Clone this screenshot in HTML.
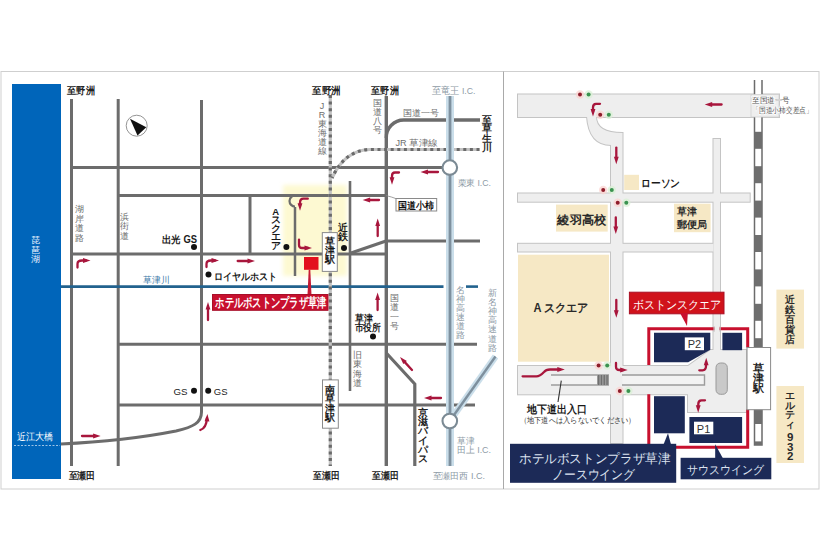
<!DOCTYPE html>
<html><head><meta charset="utf-8"><style>
html,body{margin:0;padding:0;background:#fff;width:820px;height:560px;overflow:hidden}
svg{display:block;font-family:"Liberation Sans", sans-serif}
</style></head><body>
<svg width="820" height="560" viewBox="0 0 820 560">
<rect x="1" y="71.5" width="818" height="417.5" fill="#fff" stroke="#cfcfcf" stroke-width="1" />
<line x1="503.5" y1="71.5" x2="503.5" y2="489" stroke="#a9a9a9" stroke-width="1" />
<rect x="12" y="84" width="49" height="395" fill="#0065ba" stroke="none" stroke-width="0" />
<text x="35.5" y="243.2" font-size="9" fill="#e8f2ff" font-weight="normal" text-anchor="middle" >琵</text>
<text x="35.5" y="252.5" font-size="9" fill="#e8f2ff" font-weight="normal" text-anchor="middle" >琶</text>
<text x="35.5" y="261.8" font-size="9" fill="#e8f2ff" font-weight="normal" text-anchor="middle" >湖</text>
<defs><filter id="blur"><feGaussianBlur stdDeviation="2"/></filter></defs>
<rect x="283" y="185" width="64" height="91" fill="#fdf9d2" stroke="none" stroke-width="0" filter="url(#blur)"/>
<line x1="71.5" y1="99" x2="71.5" y2="466" stroke="#6c6c6c" stroke-width="3" />
<line x1="118.2" y1="99" x2="118.2" y2="466" stroke="#6c6c6c" stroke-width="3" />
<path d="M201.5,100 L201.5,412 C201.5,423 193,427 176,431 Q125,441 61,444" stroke="#6c6c6c" stroke-width="3" fill="none" />
<line x1="71" y1="167.5" x2="443" y2="167.5" stroke="#6c6c6c" stroke-width="3" />
<line x1="118" y1="195.5" x2="386" y2="195.5" stroke="#6c6c6c" stroke-width="3" />
<line x1="71" y1="254" x2="386" y2="254" stroke="#6c6c6c" stroke-width="3" />
<line x1="250" y1="195" x2="250" y2="254" stroke="#6c6c6c" stroke-width="3" />
<path d="M295,207 L295,276" stroke="#6c6c6c" stroke-width="2.5" fill="none" />
<path d="M295,195.5 A5.5,5.5 0 0 0 295,206.5" stroke="#6c6c6c" stroke-width="2.2" fill="none" />
<line x1="350" y1="181" x2="350" y2="391" stroke="#6c6c6c" stroke-width="2.6" />
<line x1="351" y1="253" x2="386" y2="241" stroke="#6c6c6c" stroke-width="3" />
<line x1="386" y1="241" x2="480" y2="241" stroke="#6c6c6c" stroke-width="3" />
<line x1="118" y1="344.3" x2="477" y2="344.3" stroke="#6c6c6c" stroke-width="3" />
<line x1="118" y1="405" x2="475" y2="405" stroke="#6c6c6c" stroke-width="3" />
<line x1="386.3" y1="131" x2="386.3" y2="466" stroke="#6c6c6c" stroke-width="3.4" />
<line x1="386.3" y1="96" x2="386.3" y2="131" stroke="#6c6c6c" stroke-width="3.4" />
<path d="M386.3,138 A17.5,17.5 0 0 1 403.8,120 L480,120" stroke="#6c6c6c" stroke-width="3.4" fill="none" />
<path d="M386.3,353 L414.8,384 L414.8,466" stroke="#6c6c6c" stroke-width="3.2" fill="none" />
<line x1="61" y1="286.6" x2="443.5" y2="286.6" stroke="#22628e" stroke-width="2.6" />
<line x1="466" y1="286.6" x2="478" y2="286.6" stroke="#22628e" stroke-width="2.6" />
<path d="M330.3,95 L330.3,466" stroke="#c2c2c2" stroke-width="3.2" fill="none" />
<path d="M330.3,95 L330.3,466" stroke="#6a6a6a" stroke-width="3.2" fill="none" stroke-dasharray="3 3.6"/>
<path d="M479.5,149.5 L370,149.5 Q345,150 332,178" stroke="#c2c2c2" stroke-width="3.2" fill="none" />
<path d="M479.5,149.5 L370,149.5 Q345,150 332,178" stroke="#6a6a6a" stroke-width="3.2" fill="none" stroke-dasharray="3 3.6"/>
<path d="M450,96 L450,466" stroke="#cadeea" stroke-width="8" fill="none" />
<path d="M450,96 L450,466" stroke="#7e909e" stroke-width="2.8" fill="none" />
<path d="M495.5,356.5 L454,415" stroke="#cadeea" stroke-width="6.5" fill="none" />
<path d="M495.5,356.5 L454,415" stroke="#7e909e" stroke-width="2.4" fill="none" />
<circle cx="449.8" cy="167.6" r="7.3" fill="#fff" stroke="#7b8a94" stroke-width="2.1"/>
<circle cx="449.8" cy="421" r="7.3" fill="#fff" stroke="#7b8a94" stroke-width="2.1"/>
<line x1="14" y1="445.5" x2="60" y2="445.5" stroke="#9cc3e6" stroke-width="1" stroke-dasharray="2 1.5"/>
<rect x="322.3" y="232.6" width="15" height="38.8" fill="#fff" stroke="#8a8a8a" stroke-width="1" />
<text x="329.8" y="245.0" font-size="9.6" fill="#1a1a1a" font-weight="bold" text-anchor="middle" >草</text>
<text x="329.8" y="254.1" font-size="9.6" fill="#1a1a1a" font-weight="bold" text-anchor="middle" >津</text>
<text x="329.8" y="263.2" font-size="9.6" fill="#1a1a1a" font-weight="bold" text-anchor="middle" >駅</text>
<rect x="322.5" y="379.9" width="15.8" height="48.3" fill="#fff" stroke="#8a8a8a" stroke-width="1" />
<text x="330.3" y="393.1" font-size="9.6" fill="#1a1a1a" font-weight="bold" text-anchor="middle" >南</text>
<text x="330.3" y="402.3" font-size="9.6" fill="#1a1a1a" font-weight="bold" text-anchor="middle" >草</text>
<text x="330.3" y="411.5" font-size="9.6" fill="#1a1a1a" font-weight="bold" text-anchor="middle" >津</text>
<text x="330.3" y="420.7" font-size="9.6" fill="#1a1a1a" font-weight="bold" text-anchor="middle" >駅</text>
<path d="M386,195.5 Q392,197 397,199" stroke="#888" stroke-width="0.8" fill="none" />
<rect x="396" y="198.5" width="40.7" height="12.5" fill="#fff" stroke="#8a8a8a" stroke-width="1" />
<text x="398" y="209.3" font-size="9.5" fill="#111" font-weight="bold" text-anchor="start"  textLength="36" lengthAdjust="spacingAndGlyphs">国道小柿</text>
<rect x="304" y="257" width="14.5" height="12.8" fill="#e3101e" stroke="none" stroke-width="0" />
<path d="M308.7,269.8 L310.3,269.8 L311.5,295 L307.5,295 Z" fill="#c51a35"/>
<rect x="212.5" y="294.5" width="115.5" height="15.8" fill="#c8102e" stroke="#a70f2a" stroke-width="1" />
<text x="215.3" y="307.3" font-size="12.5" fill="#fff" font-weight="bold" text-anchor="start"  textLength="111" lengthAdjust="spacingAndGlyphs">ホテルボストンプラザ草津</text>
<circle cx="194" cy="247" r="3" fill="#111"/>
<circle cx="286.4" cy="247" r="3" fill="#111"/>
<circle cx="344" cy="248" r="3" fill="#111"/>
<circle cx="208.5" cy="274.6" r="3" fill="#111"/>
<circle cx="373" cy="336.4" r="3" fill="#111"/>
<circle cx="194" cy="390.8" r="3" fill="#111"/>
<circle cx="208.2" cy="390.8" r="3" fill="#111"/>
<text x="67.3" y="94.3" font-size="9.5" fill="#222" font-weight="bold" text-anchor="start"  textLength="27.5" lengthAdjust="spacingAndGlyphs">至野洲</text>
<text x="312" y="94.3" font-size="9.5" fill="#222" font-weight="bold" text-anchor="start"  textLength="28.5" lengthAdjust="spacingAndGlyphs">至野洲</text>
<text x="371.4" y="94.3" font-size="9.5" fill="#222" font-weight="bold" text-anchor="start"  textLength="27.3" lengthAdjust="spacingAndGlyphs">至野洲</text>
<text x="432" y="94.3" font-size="9.5" fill="#8e9ba6" font-weight="normal" text-anchor="start"  textLength="43.5" lengthAdjust="spacingAndGlyphs">至竜王 I.C.</text>
<text x="487" y="123.1" font-size="9.5" fill="#222" font-weight="bold" text-anchor="middle" >至</text>
<text x="487" y="132.3" font-size="9.5" fill="#222" font-weight="bold" text-anchor="middle" >草</text>
<text x="487" y="141.5" font-size="9.5" fill="#222" font-weight="bold" text-anchor="middle" >生</text>
<text x="487" y="150.7" font-size="9.5" fill="#222" font-weight="bold" text-anchor="middle" >川</text>
<text x="377" y="105.5" font-size="9" fill="#6d6d6d" font-weight="normal" text-anchor="middle" >国</text>
<text x="377" y="114.6" font-size="9" fill="#6d6d6d" font-weight="normal" text-anchor="middle" >道</text>
<text x="377" y="123.7" font-size="9" fill="#6d6d6d" font-weight="normal" text-anchor="middle" >八</text>
<text x="377" y="132.8" font-size="9" fill="#6d6d6d" font-weight="normal" text-anchor="middle" >号</text>
<text x="403" y="115.8" font-size="9" fill="#6d6d6d" font-weight="normal" text-anchor="start"  textLength="36" lengthAdjust="spacingAndGlyphs">国道一号</text>
<text x="395.4" y="146.4" font-size="8.5" fill="#6d6d6d" font-weight="normal" text-anchor="start"  textLength="42.6" lengthAdjust="spacingAndGlyphs">JR 草津線</text>
<text x="322" y="108.9" font-size="9" fill="#6d6d6d" font-weight="normal" text-anchor="middle" >J</text>
<text x="322" y="117.9" font-size="9" fill="#6d6d6d" font-weight="normal" text-anchor="middle" >R</text>
<text x="322" y="126.9" font-size="9" fill="#6d6d6d" font-weight="normal" text-anchor="middle" >東</text>
<text x="322" y="135.9" font-size="9" fill="#6d6d6d" font-weight="normal" text-anchor="middle" >海</text>
<text x="322" y="144.9" font-size="9" fill="#6d6d6d" font-weight="normal" text-anchor="middle" >道</text>
<text x="322" y="153.9" font-size="9" fill="#6d6d6d" font-weight="normal" text-anchor="middle" >線</text>
<text x="79.5" y="212.3" font-size="9" fill="#6d6d6d" font-weight="normal" text-anchor="middle" >湖</text>
<text x="79.5" y="221.7" font-size="9" fill="#6d6d6d" font-weight="normal" text-anchor="middle" >岸</text>
<text x="79.5" y="231.1" font-size="9" fill="#6d6d6d" font-weight="normal" text-anchor="middle" >道</text>
<text x="79.5" y="240.5" font-size="9" fill="#6d6d6d" font-weight="normal" text-anchor="middle" >路</text>
<text x="124.6" y="219.6" font-size="9" fill="#6d6d6d" font-weight="normal" text-anchor="middle" >浜</text>
<text x="124.6" y="229.4" font-size="9" fill="#6d6d6d" font-weight="normal" text-anchor="middle" >街</text>
<text x="124.6" y="239.2" font-size="9" fill="#6d6d6d" font-weight="normal" text-anchor="middle" >道</text>
<text x="162" y="243" font-size="10" fill="#1a1a1a" font-weight="bold" text-anchor="start"  textLength="35" lengthAdjust="spacingAndGlyphs">出光 GS</text>
<text x="275.6" y="214.6" font-size="9.5" fill="#1a1a1a" font-weight="bold" text-anchor="middle" >A</text>
<text x="275.6" y="223.2" font-size="9.5" fill="#1a1a1a" font-weight="bold" text-anchor="middle" >ス</text>
<text x="275.6" y="231.8" font-size="9.5" fill="#1a1a1a" font-weight="bold" text-anchor="middle" >ク</text>
<text x="275.6" y="240.4" font-size="9.5" fill="#1a1a1a" font-weight="bold" text-anchor="middle" >エ</text>
<text x="275.6" y="249.0" font-size="9.5" fill="#1a1a1a" font-weight="bold" text-anchor="middle" >ア</text>
<text x="343.4" y="231.3" font-size="9.5" fill="#1a1a1a" font-weight="bold" text-anchor="middle" >近</text>
<text x="343.4" y="240.2" font-size="9.5" fill="#1a1a1a" font-weight="bold" text-anchor="middle" >鉄</text>
<text x="457.5" y="185.5" font-size="9" fill="#8e9ba6" font-weight="normal" text-anchor="start"  textLength="33.5" lengthAdjust="spacingAndGlyphs">栗東 I.C.</text>
<text x="213.9" y="280" font-size="10" fill="#1a1a1a" font-weight="bold" text-anchor="start"  textLength="63" lengthAdjust="spacingAndGlyphs">ロイヤルホスト</text>
<text x="143" y="283" font-size="9" fill="#3a78a8" font-weight="normal" text-anchor="start"  textLength="26.5" lengthAdjust="spacingAndGlyphs">草津川</text>
<text x="394" y="301.1" font-size="9" fill="#6d6d6d" font-weight="normal" text-anchor="middle" >国</text>
<text x="394" y="310.3" font-size="9" fill="#6d6d6d" font-weight="normal" text-anchor="middle" >道</text>
<text x="394" y="319.5" font-size="9" fill="#6d6d6d" font-weight="normal" text-anchor="middle" >一</text>
<text x="394" y="328.7" font-size="9" fill="#6d6d6d" font-weight="normal" text-anchor="middle" >号</text>
<text x="354.6" y="322" font-size="9.5" fill="#1a1a1a" font-weight="bold" text-anchor="start"  textLength="18" lengthAdjust="spacingAndGlyphs">草津</text>
<text x="354.6" y="330.5" font-size="9.5" fill="#1a1a1a" font-weight="bold" text-anchor="start"  textLength="26.4" lengthAdjust="spacingAndGlyphs">市役所</text>
<text x="357.7" y="358.1" font-size="9" fill="#6d6d6d" font-weight="normal" text-anchor="middle" >旧</text>
<text x="357.7" y="367.3" font-size="9" fill="#6d6d6d" font-weight="normal" text-anchor="middle" >東</text>
<text x="357.7" y="376.5" font-size="9" fill="#6d6d6d" font-weight="normal" text-anchor="middle" >海</text>
<text x="357.7" y="385.7" font-size="9" fill="#6d6d6d" font-weight="normal" text-anchor="middle" >道</text>
<text x="460" y="292.9" font-size="9" fill="#8d9aa6" font-weight="normal" text-anchor="middle" >名</text>
<text x="460" y="301.9" font-size="9" fill="#8d9aa6" font-weight="normal" text-anchor="middle" >神</text>
<text x="460" y="310.9" font-size="9" fill="#8d9aa6" font-weight="normal" text-anchor="middle" >高</text>
<text x="460" y="319.9" font-size="9" fill="#8d9aa6" font-weight="normal" text-anchor="middle" >速</text>
<text x="460" y="328.9" font-size="9" fill="#8d9aa6" font-weight="normal" text-anchor="middle" >道</text>
<text x="460" y="337.9" font-size="9" fill="#8d9aa6" font-weight="normal" text-anchor="middle" >路</text>
<text x="492" y="296.0" font-size="9" fill="#8d9aa6" font-weight="normal" text-anchor="middle" >新</text>
<text x="492" y="305.1" font-size="9" fill="#8d9aa6" font-weight="normal" text-anchor="middle" >名</text>
<text x="492" y="314.2" font-size="9" fill="#8d9aa6" font-weight="normal" text-anchor="middle" >神</text>
<text x="492" y="323.3" font-size="9" fill="#8d9aa6" font-weight="normal" text-anchor="middle" >高</text>
<text x="492" y="332.4" font-size="9" fill="#8d9aa6" font-weight="normal" text-anchor="middle" >速</text>
<text x="492" y="341.5" font-size="9" fill="#8d9aa6" font-weight="normal" text-anchor="middle" >道</text>
<text x="492" y="350.6" font-size="9" fill="#8d9aa6" font-weight="normal" text-anchor="middle" >路</text>
<text x="16.7" y="440" font-size="9.5" fill="#fff" font-weight="normal" text-anchor="start"  textLength="36.3" lengthAdjust="spacingAndGlyphs">近江大橋</text>
<text x="173.5" y="395" font-size="9.5" fill="#222" font-weight="normal" text-anchor="start"  textLength="14" lengthAdjust="spacingAndGlyphs">GS</text>
<text x="213.8" y="395" font-size="9.5" fill="#222" font-weight="normal" text-anchor="start"  textLength="13.7" lengthAdjust="spacingAndGlyphs">GS</text>
<text x="423" y="415.7" font-size="9.5" fill="#222" font-weight="bold" text-anchor="middle" >京</text>
<text x="423" y="425.0" font-size="9.5" fill="#222" font-weight="bold" text-anchor="middle" >滋</text>
<text x="423" y="434.3" font-size="9.5" fill="#222" font-weight="bold" text-anchor="middle" >バ</text>
<text x="423" y="443.6" font-size="9.5" fill="#222" font-weight="bold" text-anchor="middle" >イ</text>
<text x="423" y="452.9" font-size="9.5" fill="#222" font-weight="bold" text-anchor="middle" >パ</text>
<text x="423" y="462.2" font-size="9.5" fill="#222" font-weight="bold" text-anchor="middle" >ス</text>
<text x="68.5" y="478.5" font-size="9.5" fill="#222" font-weight="bold" text-anchor="start"  textLength="26.8" lengthAdjust="spacingAndGlyphs">至瀬田</text>
<text x="313" y="478.5" font-size="9.5" fill="#222" font-weight="bold" text-anchor="start"  textLength="26.6" lengthAdjust="spacingAndGlyphs">至瀬田</text>
<text x="371.7" y="478.5" font-size="9.5" fill="#222" font-weight="bold" text-anchor="start"  textLength="26.8" lengthAdjust="spacingAndGlyphs">至瀬田</text>
<text x="432.5" y="478.5" font-size="9" fill="#8e9ba6" font-weight="normal" text-anchor="start"  textLength="52.5" lengthAdjust="spacingAndGlyphs">至瀬田西 I.C.</text>
<text x="457" y="444" font-size="9" fill="#8e9ba6" font-weight="normal" text-anchor="start"  textLength="17.5" lengthAdjust="spacingAndGlyphs">草津</text>
<text x="457" y="452.5" font-size="9" fill="#8e9ba6" font-weight="normal" text-anchor="start"  textLength="34" lengthAdjust="spacingAndGlyphs">田上 I.C.</text>
<circle cx="136.7" cy="125.7" r="10.5" fill="#fff" stroke="#888" stroke-width="0.9"/>
<path d="M130,118.8 L146.3,127.3 L137.5,135.6 Z" fill="#111"/>
<path d="M77.5,267.5 L77.5,264 Q77.5,260.5 82,260.5 L86,260.5" stroke="#a8163c" stroke-width="2.3" fill="none" stroke-linecap="round"/>
<path d="M90.5,260.5 L83.0,262.9 L83.0,258.1 Z" fill="#a8163c"/>
<path d="M206.5,267 L206.5,264 Q206.5,260.5 211,260.5 L215,260.5" stroke="#a8163c" stroke-width="2.3" fill="none" stroke-linecap="round"/>
<path d="M219.0,260.5 L211.5,262.9 L211.5,258.1 Z" fill="#a8163c"/>
<path d="M237.7,261 L249.0,261.0" stroke="#a8163c" stroke-width="2.3" fill="none" stroke-linecap="round"/>
<path d="M255.0,261.0 L247.5,263.4 L247.5,258.6 Z" fill="#a8163c"/>
<path d="M307.8,198.7 L303.5,198.7 Q300,198.7 300,203 L300,206" stroke="#a8163c" stroke-width="2.3" fill="none" stroke-linecap="round"/>
<path d="M300.0,210.7 L297.6,203.2 L302.4,203.2 Z" fill="#a8163c"/>
<path d="M299,239.6 L299,245 Q299,248 302,248 L308,248" stroke="#a8163c" stroke-width="2.3" fill="none" stroke-linecap="round"/>
<path d="M312.0,248.0 L304.5,250.4 L304.5,245.6 Z" fill="#a8163c"/>
<path d="M379,200 L368.6,200.0" stroke="#a8163c" stroke-width="2.3" fill="none" stroke-linecap="round"/>
<path d="M362.6,200.0 L370.1,197.6 L370.1,202.4 Z" fill="#a8163c"/>
<path d="M377.7,236 L377.7,224.5" stroke="#a8163c" stroke-width="2.3" fill="none" stroke-linecap="round"/>
<path d="M377.7,218.5 L380.1,226.0 L375.3,226.0 Z" fill="#a8163c"/>
<path d="M399,172.5 L395,172.5 Q392,172.5 392,176 L392,180" stroke="#a8163c" stroke-width="2.3" fill="none" stroke-linecap="round"/>
<path d="M392.0,184.7 L389.6,177.2 L394.4,177.2 Z" fill="#a8163c"/>
<path d="M438,172 L426.5,172.0" stroke="#a8163c" stroke-width="2.3" fill="none" stroke-linecap="round"/>
<path d="M420.5,172.0 L428.0,169.6 L428.0,174.4 Z" fill="#a8163c"/>
<path d="M208,320 L208.0,308.0" stroke="#a8163c" stroke-width="2.3" fill="none" stroke-linecap="round"/>
<path d="M208.0,302.0 L210.4,309.5 L205.6,309.5 Z" fill="#a8163c"/>
<path d="M377.6,310 L377.6,298.6" stroke="#a8163c" stroke-width="2.3" fill="none" stroke-linecap="round"/>
<path d="M377.6,292.6 L380.0,300.1 L375.2,300.1 Z" fill="#a8163c"/>
<path d="M412,370 L404.1,361.4" stroke="#a8163c" stroke-width="2.3" fill="none" stroke-linecap="round"/>
<path d="M400.0,357.0 L406.9,360.9 L403.3,364.1 Z" fill="#a8163c"/>
<path d="M441,398 L430.0,398.0" stroke="#a8163c" stroke-width="2.3" fill="none" stroke-linecap="round"/>
<path d="M424.0,398.0 L431.5,395.6 L431.5,400.4 Z" fill="#a8163c"/>
<path d="M82,436 L94.6,436.0" stroke="#a8163c" stroke-width="2.3" fill="none" stroke-linecap="round"/>
<path d="M100.6,436.0 L93.1,438.4 L93.1,433.6 Z" fill="#a8163c"/>
<path d="M200.3,430 Q206.5,428 206.9,418" stroke="#a8163c" stroke-width="2.3" fill="none" stroke-linecap="round"/>
<path d="M207.4,413.9 L209.4,421.5 L204.6,421.3 Z" fill="#a8163c"/>
<g fill="#eeeeee" stroke="#c4c4c4" stroke-width="2"><rect x="518" y="94.5" width="261" height="22.5"/><path d="M587,116.5 Q589,145 611,145 L611,443 L622.5,443 L622.5,133 Q596,133 596,116.5 Z"/><rect x="518" y="193.5" width="231.7" height="8.2"/><rect x="518" y="243.8" width="195.5" height="7.7"/><rect x="713.5" y="139" width="6.5" height="224"/><rect x="518" y="366" width="93" height="28.3"/><path d="M611,366 L688,366 L710.5,350 L746,350 L746,412 L688,412 L688,394.3 L611,394.3 Z"/></g>
<g fill="#eeeeee" stroke="none"><rect x="518" y="94.5" width="261" height="22.5"/><path d="M587,116.5 Q589,145 611,145 L611,443 L622.5,443 L622.5,133 Q596,133 596,116.5 Z"/><rect x="518" y="193.5" width="231.7" height="8.2"/><rect x="518" y="243.8" width="195.5" height="7.7"/><rect x="713.5" y="139" width="6.5" height="224"/><rect x="518" y="366" width="93" height="28.3"/><path d="M611,366 L688,366 L710.5,350 L746,350 L746,412 L688,412 L688,394.3 L611,394.3 Z"/></g>
<path d="M754.5,80 L754.5,445 L762,445 L762,80" fill="#fff" stroke="#6b6b6b" stroke-width="1.5"/>
<rect x="754.5" y="131.8" width="7.5" height="17.0" fill="#6e6e6e"/>
<rect x="754.5" y="166.2" width="7.5" height="17.0" fill="#6e6e6e"/>
<rect x="754.5" y="200.6" width="7.5" height="17.0" fill="#6e6e6e"/>
<rect x="754.5" y="235.0" width="7.5" height="17.0" fill="#6e6e6e"/>
<rect x="754.5" y="269.4" width="7.5" height="17.0" fill="#6e6e6e"/>
<rect x="754.5" y="303.8" width="7.5" height="17.0" fill="#6e6e6e"/>
<rect x="754.5" y="338.2" width="7.5" height="17.0" fill="#6e6e6e"/>
<rect x="754.5" y="372.6" width="7.5" height="17.0" fill="#6e6e6e"/>
<rect x="754.5" y="407.0" width="7.5" height="17.0" fill="#6e6e6e"/>
<rect x="754.5" y="441.4" width="7.5" height="3.6" fill="#6e6e6e"/>
<rect x="753" y="94.5" width="10" height="22.5" fill="#eeeeee" stroke="none" stroke-width="0" />
<rect x="751" y="94.5" width="28" height="22.5" fill="none" stroke="#d0d0d0" stroke-width="0.8"/>
<text x="752.2" y="103.3" font-size="7.5" fill="#555" font-weight="normal" text-anchor="start" stroke="#fff" stroke-width="1.5" paint-order="stroke" textLength="37.6" lengthAdjust="spacingAndGlyphs">至国道一号</text>
<text x="752.2" y="112.8" font-size="7.5" fill="#555" font-weight="normal" text-anchor="start" stroke="#fff" stroke-width="1.5" paint-order="stroke" textLength="60.5" lengthAdjust="spacingAndGlyphs">「国道小柿交差点」</text>
<rect x="624.2" y="174.8" width="14.8" height="15.2" fill="#f6e8c5" stroke="none" stroke-width="0" />
<text x="641.3" y="187.3" font-size="11" fill="#1a1a1a" font-weight="bold" text-anchor="start"  textLength="38.7" lengthAdjust="spacingAndGlyphs">ローソン</text>
<rect x="556" y="204.6" width="51.7" height="27" fill="#f6e8c5" stroke="none" stroke-width="0" />
<text x="557.4" y="224" font-size="12" fill="#2a2a2a" font-weight="bold" text-anchor="start"  textLength="48.6" lengthAdjust="spacingAndGlyphs">綾羽高校</text>
<rect x="674" y="203.7" width="36.6" height="28.5" fill="#f6e8c5" stroke="none" stroke-width="0" />
<text x="677" y="214.6" font-size="9.5" fill="#2a2a2a" font-weight="bold" text-anchor="start"  textLength="19.7" lengthAdjust="spacingAndGlyphs">草津</text>
<text x="677" y="227.5" font-size="9.5" fill="#2a2a2a" font-weight="bold" text-anchor="start"  textLength="30" lengthAdjust="spacingAndGlyphs">郵便局</text>
<rect x="518" y="254.7" width="91" height="107" fill="#f6e8c5" stroke="none" stroke-width="0" />
<text x="533.4" y="311.5" font-size="12" fill="#2a2a2a" font-weight="bold" text-anchor="start"  textLength="55" lengthAdjust="spacingAndGlyphs">A スクエア</text>
<rect x="776.4" y="289.6" width="27.6" height="59" fill="#f6e8c5" stroke="none" stroke-width="0" />
<text x="790.2" y="303.3" font-size="9.8" fill="#2a2a2a" font-weight="bold" text-anchor="middle" >近</text>
<text x="790.2" y="313.2" font-size="9.8" fill="#2a2a2a" font-weight="bold" text-anchor="middle" >鉄</text>
<text x="790.2" y="323.2" font-size="9.8" fill="#2a2a2a" font-weight="bold" text-anchor="middle" >百</text>
<text x="790.2" y="333.1" font-size="9.8" fill="#2a2a2a" font-weight="bold" text-anchor="middle" >貨</text>
<text x="790.2" y="343.1" font-size="9.8" fill="#2a2a2a" font-weight="bold" text-anchor="middle" >店</text>
<rect x="776.4" y="386" width="27.6" height="77" fill="#f6e8c5" stroke="none" stroke-width="0" />
<text x="790.2" y="398.9" font-size="9.8" fill="#2a2a2a" font-weight="bold" text-anchor="middle" >エ</text>
<text x="790.2" y="408.5" font-size="9.8" fill="#2a2a2a" font-weight="bold" text-anchor="middle" >ル</text>
<text x="790.2" y="418.1" font-size="9.8" fill="#2a2a2a" font-weight="bold" text-anchor="middle" >テ</text>
<text x="790.2" y="427.7" font-size="9.8" fill="#2a2a2a" font-weight="bold" text-anchor="middle" >ィ</text>
<text x="790.2" y="441.3" font-size="11.5" fill="#2a2a2a" font-weight="bold" text-anchor="middle" >9</text>
<text x="790.2" y="450.9" font-size="11.5" fill="#2a2a2a" font-weight="bold" text-anchor="middle" >3</text>
<text x="790.2" y="460.4" font-size="11.5" fill="#2a2a2a" font-weight="bold" text-anchor="middle" >2</text>
<rect x="551" y="375" width="58" height="10" fill="#f3f3f3" stroke="none" stroke-width="0" />
<line x1="551" y1="375" x2="609" y2="375" stroke="#9c9c9c" stroke-width="1.4" />
<line x1="551" y1="385" x2="609" y2="385" stroke="#9c9c9c" stroke-width="1.4" />
<rect x="597" y="375" width="12" height="10" fill="#9a9a9a" stroke="none" stroke-width="0" />
<rect x="598.0" y="375" width="1.3" height="10" fill="#6f6f6f" stroke="none" stroke-width="0" />
<rect x="600.8" y="375" width="1.3" height="10" fill="#6f6f6f" stroke="none" stroke-width="0" />
<rect x="603.6" y="375" width="1.3" height="10" fill="#6f6f6f" stroke="none" stroke-width="0" />
<rect x="606.4" y="375" width="1.3" height="10" fill="#6f6f6f" stroke="none" stroke-width="0" />
<rect x="622.5" y="375" width="82" height="10" fill="#f3f3f3" stroke="none" stroke-width="0" />
<path d="M622,375 L704.5,375 L704.5,385 L622,385" stroke="#9c9c9c" stroke-width="1.4" fill="none" />
<rect x="716" y="363" width="11.3" height="31.3" rx="4.5" fill="#c9c9c9" stroke="#9a9a9a" stroke-width="1"/>
<path d="M648.8,365 L648.8,328.8 L747.7,328.8 L747.7,347.5" stroke="#c8102e" stroke-width="3" fill="none" />
<path d="M648.8,394.3 L648.8,447.3 L747.7,447.3 L747.7,409.5" stroke="#c8102e" stroke-width="3" fill="none" />
<path d="M654,332.8 L710.3,332.8 L710.3,349.7 L688.2,362.3 L654,362.3 Z" fill="#1c2a57"/>
<rect x="684.8" y="337.4" width="19.2" height="12.8" fill="#fff" stroke="none" stroke-width="0" />
<text x="694.4" y="348.4" font-size="11" fill="#333" font-weight="normal" text-anchor="middle" >P2</text>
<rect x="722.4" y="332.8" width="19.7" height="17.4" fill="#1c2a57" stroke="none" stroke-width="0" />
<rect x="714.5" y="326" width="5" height="6" fill="#eeeeee" stroke="none" stroke-width="0" />
<line x1="714" y1="326" x2="714" y2="332" stroke="#c4c4c4" stroke-width="1" />
<line x1="720.2" y1="326" x2="720.2" y2="332" stroke="#c4c4c4" stroke-width="1" />
<rect x="654" y="396.2" width="30.8" height="37.1" fill="#1c2a57" stroke="none" stroke-width="0" />
<rect x="689.4" y="417" width="52.7" height="26" fill="#1c2a57" stroke="none" stroke-width="0" />
<rect x="694" y="421.7" width="19.3" height="12.6" fill="#fff" stroke="none" stroke-width="0" />
<text x="703.6" y="432.6" font-size="11" fill="#333" font-weight="normal" text-anchor="middle" >P1</text>
<rect x="747" y="347.5" width="23.6" height="62.2" fill="#fff" stroke="#8a8a8a" stroke-width="1" />
<text x="758.5" y="371.6" font-size="10.5" fill="#222" font-weight="bold" text-anchor="middle" >草</text>
<text x="758.5" y="381.9" font-size="10.5" fill="#222" font-weight="bold" text-anchor="middle" >津</text>
<text x="758.5" y="392.2" font-size="10.5" fill="#222" font-weight="bold" text-anchor="middle" >駅</text>
<rect x="629.4" y="292.2" width="94.6" height="21.6" fill="#d0121b" stroke="#a90f24" stroke-width="1" />
<path d="M680,313 L687.8,313 L687,326 Z" fill="#c8102e"/>
<text x="632.8" y="308.5" font-size="12" fill="#fff" font-weight="normal" text-anchor="start"  textLength="88.4" lengthAdjust="spacingAndGlyphs">ボストンスクエア</text>
<rect x="510" y="443.8" width="166.2" height="39" fill="#1c2a57" stroke="none" stroke-width="0" />
<path d="M663.5,444.5 L671,444.5 L668,433.3 Z" fill="#1c2a57"/>
<text x="518.9" y="462.6" font-size="13" fill="#dde3f0" font-weight="normal" text-anchor="start"  textLength="151.5" lengthAdjust="spacingAndGlyphs">ホテルボストンプラザ草津</text>
<text x="552" y="478.6" font-size="13" fill="#dde3f0" font-weight="normal" text-anchor="start"  textLength="83" lengthAdjust="spacingAndGlyphs">ノースウイング</text>
<rect x="680.6" y="457.8" width="90.7" height="21.5" fill="#1c2a57" stroke="none" stroke-width="0" />
<path d="M715.2,458.5 L723,458.5 L715.2,444.3 Z" fill="#1c2a57"/>
<text x="687.4" y="473.8" font-size="12" fill="#dde3f0" font-weight="normal" text-anchor="start"  textLength="76.6" lengthAdjust="spacingAndGlyphs">サウスウイング</text>
<line x1="561.3" y1="380.7" x2="558" y2="402" stroke="#333" stroke-width="1.1" />
<text x="526.5" y="413" font-size="10.5" fill="#1a1a1a" font-weight="bold" text-anchor="start"  textLength="60" lengthAdjust="spacingAndGlyphs">地下道出入口</text>
<text x="519.6" y="423" font-size="7.6" fill="#333" font-weight="normal" text-anchor="start"  textLength="116" lengthAdjust="spacingAndGlyphs">（地下道へは入らないでください）</text>
<circle cx="580" cy="94.5" r="4.2" fill="#fbd3d0" opacity="0.75"/>
<circle cx="580" cy="94.5" r="2" fill="#8e1d2b"/>
<circle cx="588.6" cy="94.5" r="4.2" fill="#d9f0d6" opacity="0.75"/>
<circle cx="588.6" cy="94.5" r="2" fill="#3b9350"/>
<circle cx="600.2" cy="114.7" r="4.2" fill="#fbd3d0" opacity="0.75"/>
<circle cx="600.2" cy="114.7" r="2" fill="#8e1d2b"/>
<circle cx="608.8000000000001" cy="114.7" r="4.2" fill="#d9f0d6" opacity="0.75"/>
<circle cx="608.8000000000001" cy="114.7" r="2" fill="#3b9350"/>
<circle cx="603.2" cy="190" r="4.2" fill="#fbd3d0" opacity="0.75"/>
<circle cx="603.2" cy="190" r="2" fill="#8e1d2b"/>
<circle cx="611.8000000000001" cy="190" r="4.2" fill="#d9f0d6" opacity="0.75"/>
<circle cx="611.8000000000001" cy="190" r="2" fill="#3b9350"/>
<circle cx="617.7" cy="202.7" r="4.2" fill="#fbd3d0" opacity="0.75"/>
<circle cx="617.7" cy="202.7" r="2" fill="#8e1d2b"/>
<circle cx="626.3000000000001" cy="202.7" r="4.2" fill="#d9f0d6" opacity="0.75"/>
<circle cx="626.3000000000001" cy="202.7" r="2" fill="#3b9350"/>
<circle cx="598.6" cy="365.5" r="4.2" fill="#fbd3d0" opacity="0.75"/>
<circle cx="598.6" cy="365.5" r="2" fill="#8e1d2b"/>
<circle cx="607.2" cy="365.5" r="4.2" fill="#d9f0d6" opacity="0.75"/>
<circle cx="607.2" cy="365.5" r="2" fill="#3b9350"/>
<circle cx="619.8" cy="391" r="4.2" fill="#fbd3d0" opacity="0.75"/>
<circle cx="619.8" cy="391" r="2" fill="#8e1d2b"/>
<circle cx="628.4" cy="391" r="4.2" fill="#d9f0d6" opacity="0.75"/>
<circle cx="628.4" cy="391" r="2" fill="#3b9350"/>
<path d="M721.6,104.5 L710.7,104.5" stroke="#a8163c" stroke-width="2.3" fill="none" stroke-linecap="round"/>
<path d="M704.7,104.5 L712.2,102.1 L712.2,106.9 Z" fill="#a8163c"/>
<path d="M600,103.8 L596,103.8 Q593,103.8 593,107.5 L593,112" stroke="#a8163c" stroke-width="2.3" fill="none" stroke-linecap="round"/>
<path d="M593.0,116.5 L590.6,109.0 L595.4,109.0 Z" fill="#a8163c"/>
<path d="M616.3,147.6 L616.3,158.3" stroke="#a8163c" stroke-width="2.3" fill="none" stroke-linecap="round"/>
<path d="M616.3,164.3 L613.9,156.8 L618.7,156.8 Z" fill="#a8163c"/>
<path d="M615.8,217.4 L615.8,228.0" stroke="#a8163c" stroke-width="2.3" fill="none" stroke-linecap="round"/>
<path d="M615.8,234.0 L613.4,226.5 L618.2,226.5 Z" fill="#a8163c"/>
<path d="M616.3,300 L616.3,311.8" stroke="#a8163c" stroke-width="2.3" fill="none" stroke-linecap="round"/>
<path d="M616.3,317.8 L613.9,310.3 L618.7,310.3 Z" fill="#a8163c"/>
<path d="M522.6,376.3 L536.3,376.3 Q540,376.3 544,372 Q546,369.5 550,369.5 L560,369.5" stroke="#a8163c" stroke-width="2.3" fill="none" stroke-linecap="round"/>
<path d="M564.8,369.5 L557.3,371.9 L557.3,367.1 Z" fill="#a8163c"/>
<path d="M616,363 L616,367 Q616,370 619.5,370 L623,370" stroke="#a8163c" stroke-width="2.3" fill="none" stroke-linecap="round"/>
<path d="M627.7,370.0 L620.2,372.4 L620.2,367.6 Z" fill="#a8163c"/>
<path d="M699.3,370.3 L702.5,370.3 Q706,370.3 706,366 L706,364" stroke="#a8163c" stroke-width="2.3" fill="none" stroke-linecap="round"/>
<path d="M706.2,357.8 L708.6,365.3 L703.8,365.3 Z" fill="#a8163c"/>
<path d="M705,400.3 L701.5,400.3 Q698.3,400.3 698.3,404 L698.3,407" stroke="#a8163c" stroke-width="2.3" fill="none" stroke-linecap="round"/>
<path d="M698.2,412.8 L695.8,405.3 L700.6,405.3 Z" fill="#a8163c"/>
</svg>
</body></html>
